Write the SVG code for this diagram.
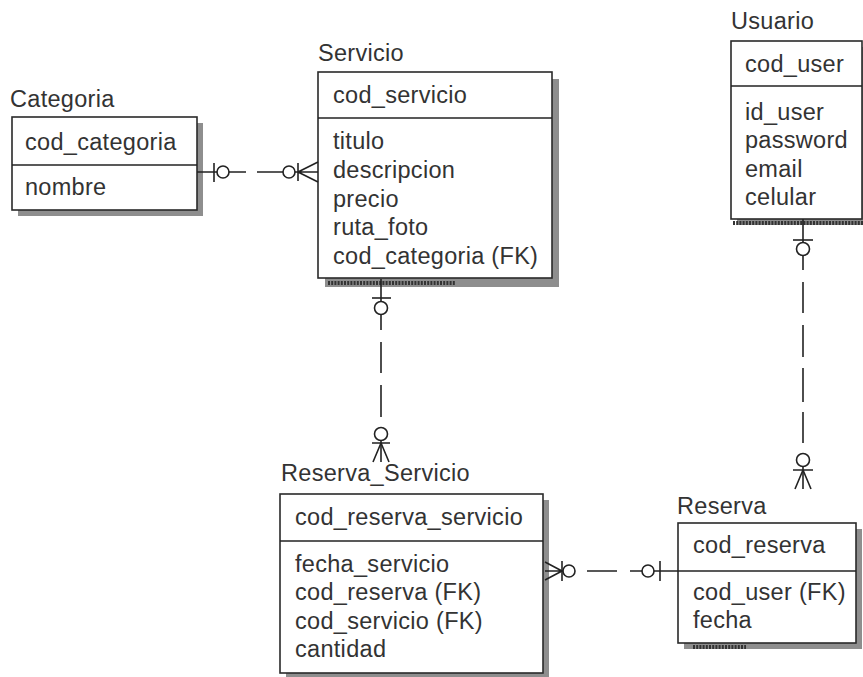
<svg xmlns="http://www.w3.org/2000/svg" width="863" height="677" viewBox="0 0 863 677">
<style>
.box{fill:#fff;stroke:#2a2a2a;stroke-width:1.6}
.sh{fill:#8e8e8e}
.tick{stroke:#333;stroke-width:4;stroke-dasharray:2 1.2;fill:none}
.t{font-family:"Liberation Sans",Arial,sans-serif;font-size:23.5px;letter-spacing:0.3px;fill:#333}
.ln{stroke:#222;stroke-width:1.6;fill:none}
.c{fill:#fff;stroke:#222;stroke-width:1.6}
</style>
<rect width="863" height="677" fill="#fff"/>

<g id="categoria">
<rect class="sh" x="18" y="123" width="185" height="93"/>
<rect class="box" x="12" y="117" width="185" height="93"/>
<line class="ln" x1="12" y1="165" x2="197" y2="165"/>
<text class="t" x="10" y="107">Categoria</text>
<text class="t" x="25" y="150">cod_categoria</text>
<text class="t" x="25" y="195">nombre</text>
</g>

<g id="servicio">
<rect class="sh" x="325" y="79" width="234" height="208"/>
<line class="tick" x1="328" y1="283" x2="455" y2="283"/>
<rect class="box" x="318" y="72" width="234" height="206"/>
<line class="ln" x1="318" y1="118" x2="552" y2="118"/>
<text class="t" x="318" y="61">Servicio</text>
<text class="t" x="333" y="103">cod_servicio</text>
<text class="t" x="333" y="149">titulo</text>
<text class="t" x="333" y="178">descripcion</text>
<text class="t" x="333" y="207">precio</text>
<text class="t" x="333" y="235">ruta_foto</text>
<text class="t" x="333" y="264">cod_categoria (FK)</text>
</g>

<g id="usuario">
<rect class="sh" x="737" y="47" width="131" height="178"/>
<line class="tick" x1="733" y1="223" x2="863" y2="223"/>
<rect class="box" x="731" y="41" width="131" height="178"/>
<line class="ln" x1="731" y1="86" x2="862" y2="86"/>
<text class="t" x="731" y="29">Usuario</text>
<text class="t" x="745" y="72">cod_user</text>
<text class="t" x="745" y="120">id_user</text>
<text class="t" x="745" y="148">password</text>
<text class="t" x="745" y="177">email</text>
<text class="t" x="745" y="205">celular</text>
</g>

<g id="reserva_servicio">
<rect class="sh" x="286" y="500" width="263" height="179"/>
<rect class="box" x="280" y="494" width="263" height="179"/>
<line class="ln" x1="280" y1="541" x2="543" y2="541"/>
<text class="t" x="281" y="481">Reserva_Servicio</text>
<text class="t" x="295" y="525">cod_reserva_servicio</text>
<text class="t" x="295" y="572">fecha_servicio</text>
<text class="t" x="295" y="600">cod_reserva (FK)</text>
<text class="t" x="295" y="629">cod_servicio (FK)</text>
<text class="t" x="295" y="657">cantidad</text>
</g>

<g id="reserva">
<rect class="sh" x="684" y="529" width="178" height="120"/>
<line class="tick" x1="693" y1="647" x2="746" y2="647"/>
<rect class="box" x="678" y="523" width="178" height="120"/>
<line class="ln" x1="678" y1="571" x2="856" y2="571"/>
<text class="t" x="677" y="514">Reserva</text>
<text class="t" x="693" y="553">cod_reserva</text>
<text class="t" x="693" y="600">cod_user (FK)</text>
<text class="t" x="693" y="628">fecha</text>
</g>

<g id="connectors">
<!-- Categoria - Servicio -->
<path class="ln" d="M197 172H246M257 172H298"/>
<line class="ln" x1="214" y1="163" x2="214" y2="182"/>
<circle class="c" cx="223" cy="172" r="6"/>
<circle class="c" cx="289" cy="172" r="6"/>
<path class="ln" d="M298 163V181M298 172L318 162M298 172L318 182M298 172H318"/>

<!-- Servicio - Reserva_Servicio -->
<path class="ln" d="M381 279V330M381 342V373M381 385V417M381 428V462"/>
<line class="ln" x1="372" y1="298" x2="391" y2="298"/>
<circle class="c" cx="381" cy="308" r="6.5"/>
<circle class="c" cx="381" cy="434" r="6.5"/>
<path class="ln" d="M372 443H390M381 443L373 462M381 443L389 462"/>

<!-- Usuario - Reserva -->
<path class="ln" d="M803 219V270M803 282V313M803 325V357M803 368V402M803 412V443M803 453V489"/>
<line class="ln" x1="793" y1="240" x2="813" y2="240"/>
<circle class="c" cx="803" cy="249" r="6.5"/>
<circle class="c" cx="803" cy="460" r="6.5"/>
<path class="ln" d="M793 470H813M803 470L795 489M803 470L811 489"/>

<!-- Reserva_Servicio - Reserva -->
<path class="ln" d="M545 562L562 571M545 580L562 571M545 571H575M587 571H617M630 571H678"/>
<line class="ln" x1="562" y1="561" x2="562" y2="581"/>
<circle class="c" cx="569" cy="571" r="6"/>
<circle class="c" cx="648" cy="571" r="6"/>
<line class="ln" x1="660" y1="561" x2="660" y2="581"/>
</g>
</svg>
